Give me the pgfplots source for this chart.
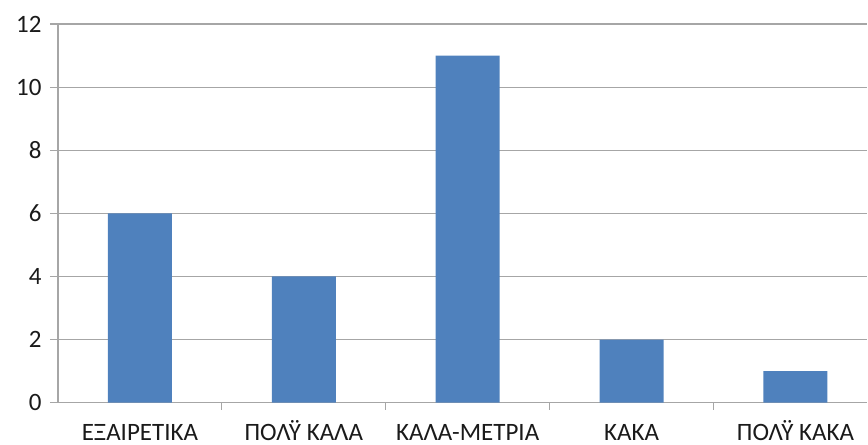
\documentclass[border=0pt]{standalone}
\usepackage{fontspec}
\setmainfont{Carlito}
\usepackage{pgfplots}
\pgfplotsset{compat=1.18}
\definecolor{barblue}{HTML}{4F81BD}
\definecolor{gridgray}{HTML}{A6A6A6}
\definecolor{txt}{HTML}{1A1A1A}
\begin{document}
\begin{tikzpicture}[x=1pt,y=1pt]
\path (-58,-42) rectangle (810,403);
\begin{axis}[
  at={(0,0)}, anchor=south west,
  scale only axis, width=810pt, height=379pt,
  xmin=-0.5, xmax=4.439, ymin=0, ymax=12,
  ytick={0,2,...,12},
  xtick={0,1,2,3,4},
  xticklabels={ΕΞΑΙΡΕΤΙΚΑ, ΠΟΛΫ ΚΑΛΑ, ΚΑΛΑ-ΜΕΤΡΙΑ, ΚΑΚΑ, ΠΟΛΫ ΚΑΚΑ},
  minor xtick={0.5,1.5,2.5,3.5},
  axis x line*=bottom, axis y line*=left,
  axis line style={gridgray, line width=1.2pt},
  ymajorgrids, grid style={gridgray, line width=1.2pt},
  tick align=outside, tick pos=left,
  x tick style={draw=none},
  minor x tick style={draw=gridgray, line width=1.2pt},
  minor tick length=7pt,
  y tick style={gridgray, line width=1.2pt},
  major tick length=8pt,
  ticklabel style={font=\fontsize{25}{30}\selectfont, text=txt},
  /pgf/number format/assume math mode=true,
  yticklabel style={xshift=-5pt},
  xticklabel style={anchor=north, text height=16pt, text depth=0pt, inner sep=0pt, yshift=-14pt},
  ybar, bar width=64pt,
  clip=false,
]
\addplot[fill=barblue, draw=none] coordinates {(0,6) (1,4) (2,11) (3,2) (4,1)};
\end{axis}
\end{tikzpicture}
\end{document}
